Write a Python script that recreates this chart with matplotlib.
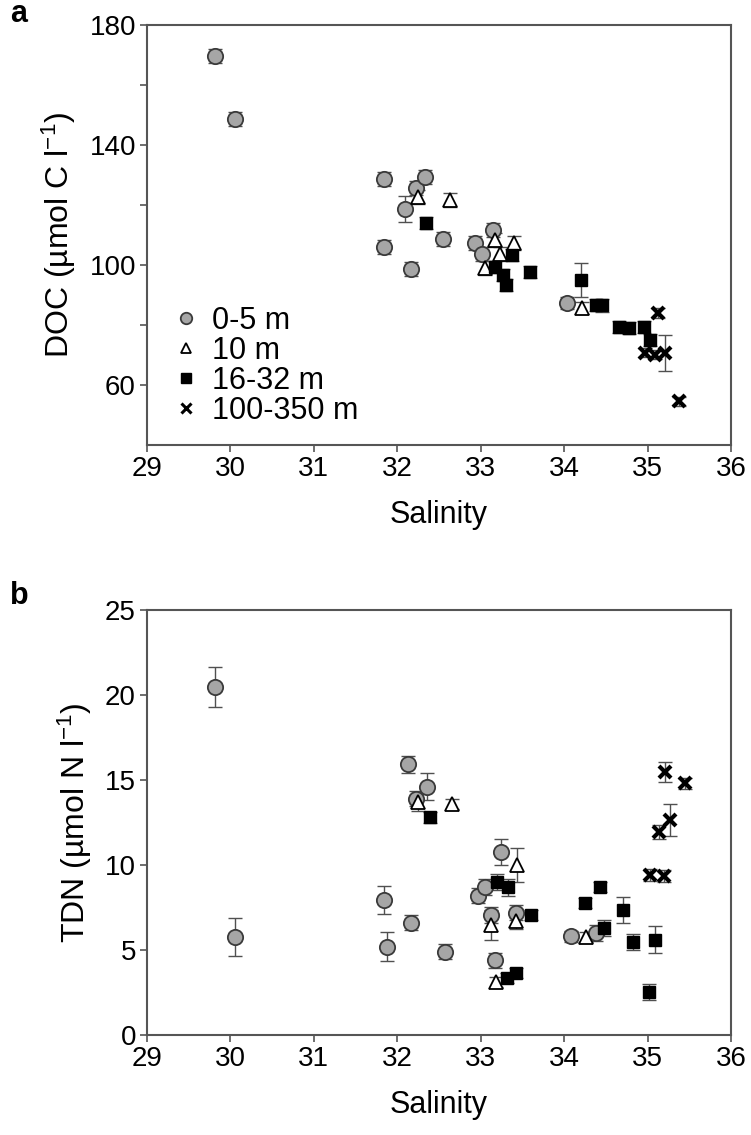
import matplotlib
matplotlib.use("Agg")
import matplotlib.pyplot as plt
from matplotlib.ticker import MultipleLocator, FixedLocator

plt.rcParams['font.family'] = ['Liberation Sans', 'DejaVu Sans']
plt.rcParams['mathtext.default'] = 'regular'

# ---------------- Panel a: DOC vs salinity ----------------
a_s0 = [29.81, 30.05, 31.84, 31.84, 32.09, 32.17, 32.23, 32.33, 32.55, 32.93, 33.01, 33.15, 34.04]
a_v0 = [169.7, 148.7, 128.6, 106.0, 118.7, 98.7, 125.6, 129.3, 108.7, 107.3, 103.7, 111.7, 87.3]
a_e0 = [2.4, 2.4, 2.4, 2.4, 4.3, 2.4, 2.4, 2.4, 2.4, 2.4, 2.4, 2.4, 2.0]

a_s1 = [32.25, 32.63, 33.05, 33.17, 33.23, 33.40, 34.22]
a_v1 = [122.7, 121.7, 99.0, 108.3, 103.7, 107.3, 85.7]
a_e1 = [2.4, 2.4, 2.4, 2.4, 2.4, 2.4, 2.0]

a_s2 = [32.35, 33.17, 33.27, 33.30, 33.37, 33.59, 34.20, 34.38, 34.45, 34.66, 34.78, 34.96, 35.03]
a_v2 = [114.0, 99.3, 96.7, 93.3, 103.3, 97.7, 95.0, 86.7, 86.5, 79.3, 79.0, 79.3, 75.0]
a_e2 = [2.0, 2.0, 2.0, 2.0, 2.0, 2.0, 5.7, 2.0, 2.0, 2.0, 2.0, 2.0, 2.0]

a_s3 = [35.12, 34.97, 35.09, 35.21, 35.38]
a_v3 = [84.0, 70.7, 70.0, 70.7, 54.5]
a_e3 = [1.5, 1.5, 1.5, 6.0, 1.5]

# ---------------- Panel b: TDN vs salinity ----------------
b_s0 = [29.82, 30.05, 31.84, 31.88, 32.13, 32.17, 32.22, 32.36, 32.57, 32.97, 33.05, 33.12, 33.17, 33.24, 33.42, 34.08, 34.38]
b_v0 = [20.47, 5.76, 7.94, 5.20, 15.94, 6.60, 13.9, 14.60, 4.90, 8.20, 8.70, 7.06, 4.40, 10.76, 7.20, 5.80, 6.00]
b_e0 = [1.2, 1.1, 0.85, 0.85, 0.5, 0.45, 0.45, 0.8, 0.45, 0.45, 0.45, 0.45, 0.45, 0.75, 0.45, 0.3, 0.45]

b_s1 = [32.25, 32.66, 33.44, 33.12, 33.42, 33.18, 34.26]
b_v1 = [13.70, 13.60, 10.00, 6.47, 6.70, 3.10, 5.76]
b_e1 = [0.5, 0.3, 1.0, 0.9, 0.45, 0.3, 0.3]

b_s2 = [32.39, 33.20, 33.33, 33.60, 33.32, 33.42, 34.25, 34.43, 34.48, 34.70, 34.82, 35.09, 35.02]
b_v2 = [12.80, 9.00, 8.70, 7.06, 3.35, 3.65, 7.76, 8.70, 6.30, 7.35, 5.47, 5.60, 2.53]
b_e2 = [0.3, 0.45, 0.5, 0.3, 0.3, 0.3, 0.3, 0.3, 0.45, 0.75, 0.45, 0.8, 0.45]

b_s3 = [35.27, 35.14, 35.03, 35.20, 35.21, 35.45]
b_v3 = [12.65, 11.95, 9.40, 9.35, 15.47, 14.80]
b_e3 = [0.95, 0.4, 0.35, 0.35, 0.6, 0.3]

labels = ['0-5 m', '10 m', '16-32 m', '100-350 m']
x_ticks = [29, 30, 31, 32, 33, 34, 35, 36]

fig = plt.figure(figsize=(7.51, 11.35), dpi=100)
W, H = 751, 1135
def axrect(l, t, r, b):
    return [l / W, 1 - b / H, (r - l) / W, (b - t) / H]

ax_a = fig.add_axes(axrect(147, 25, 731, 445))
ax_b = fig.add_axes(axrect(147, 610, 731, 1035))

styles = [
    dict(marker='o', ms=11, mfc='#a6a6a6', mec='#3a3a3a', mew=1.3),
    dict(marker='^', ms=10, mfc='white', mec='black', mew=1.3),
    dict(marker='s', ms=9, mfc='black', mec='black', mew=1.0),
    dict(marker='x', ms=9, mfc='black', mec='black', mew=3.0),
]
err_kw = dict(ecolor='#505050', elinewidth=1.0, capsize=5, capthick=1.0, linestyle='none')

def draw(ax, series):
    for (s, v, e), st, lab in zip(series, styles, labels):
        ax.errorbar(s, v, yerr=e, **err_kw, zorder=2)
        ax.plot(s, v, linestyle='none', zorder=3, label=lab, **st)

draw(ax_a, [(a_s0, a_v0, a_e0), (a_s1, a_v1, a_e1), (a_s2, a_v2, a_e2), (a_s3, a_v3, a_e3)])
draw(ax_b, [(b_s0, b_v0, b_e0), (b_s1, b_v1, b_e1), (b_s2, b_v2, b_e2), (b_s3, b_v3, b_e3)])

for ax in (ax_a, ax_b):
    ax.set_xlim(29, 36)
    ax.xaxis.set_major_locator(FixedLocator(x_ticks))
    ax.set_xlabel('Salinity', fontsize=22, labelpad=13)
    for sp in ax.spines.values():
        sp.set_color('#555555')
        sp.set_linewidth(1.5)
    ax.tick_params(which='both', direction='out', length=5, width=1.2, color='#555555',
                   labelsize=20, pad=3)

ax_a.set_ylim(40, 180)
ax_a.yaxis.set_major_locator(FixedLocator([60, 100, 140, 180]))
ax_a.yaxis.set_minor_locator(FixedLocator([80, 120, 160]))
ax_a.set_ylabel('DOC (µmol C l$^{-1}$)', fontsize=23, labelpad=8)

ax_b.set_ylim(0, 25)
ax_b.yaxis.set_major_locator(MultipleLocator(5))
ax_b.set_ylabel('TDN (µmol N l$^{-1}$)', fontsize=23, labelpad=8)

leg_handles = []
for st, lab in zip(styles, labels):
    st2 = dict(st)
    st2['ms'] = st['ms'] * 0.75
    if st['marker'] == 'x':
        st2['mew'] = 2.2
    leg_handles.append(plt.Line2D([], [], linestyle='none', label=lab, **st2))
ax_a.legend(handles=leg_handles, loc='lower left', bbox_to_anchor=(0.01, -0.006), frameon=False,
            fontsize=22, handlelength=0.8, handletextpad=0.45, labelspacing=0.0,
            borderaxespad=0.3)

fig.text(10 / W, 1 - 14 / H, 'a', fontsize=22, fontweight='bold', va='center')
fig.text(10 / W, 1 - 596 / H, 'b', fontsize=22, fontweight='bold', va='center')

fig.savefig('out.png', dpi=100)
